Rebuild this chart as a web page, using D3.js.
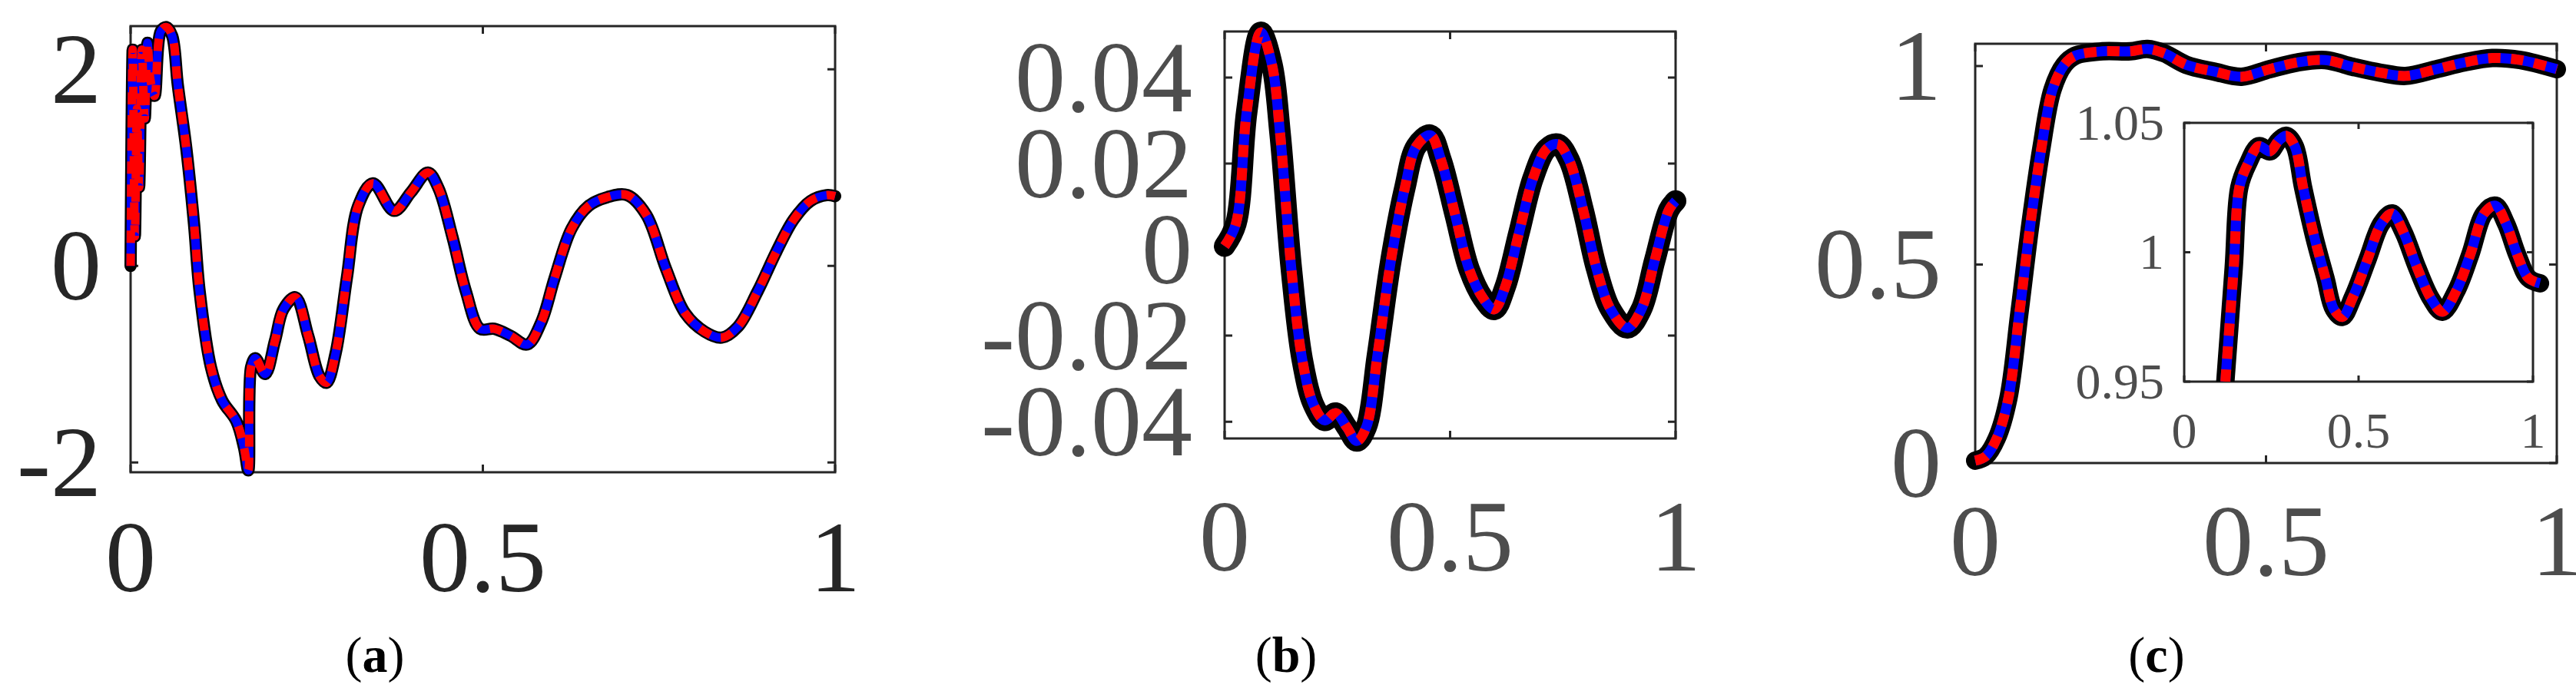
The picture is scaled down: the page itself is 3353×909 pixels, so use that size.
<!DOCTYPE html>
<html>
<head>
<meta charset="utf-8">
<script src="https://cdn.jsdelivr.net/npm/d3@7"></script>
<style>
  body { margin: 0; background: #fff; }
  text { font-family: "Liberation Serif", "DejaVu Serif", serif; }
</style>
</head>
<body>
<svg id="fig" width="3353" height="909"></svg>
<script>
// Panel (a)
const aX = [0,0.003,0.006,0.009,0.012,0.016,0.02,0.024,0.028,0.034,0.043,0.051,0.059,0.067,0.079,0.09,0.098,0.114,0.13,0.15,0.161,0.167,0.171,0.177,0.191,0.205,0.217,0.234,0.252,0.268,0.278,0.291,0.307,0.323,0.344,0.374,0.398,0.422,0.437,0.457,0.476,0.496,0.516,0.539,0.563,0.583,0.602,0.626,0.65,0.677,0.705,0.732,0.76,0.787,0.815,0.839,0.862,0.89,0.917,0.941,0.965,0.988,1];
const aY = [0,2.2,0.3,1.6,0.8,2.2,1.5,2.27,1.9,1.73,2.39,2.43,2.34,1.84,1.2,0.43,-0.26,-1.03,-1.37,-1.58,-1.85,-2.08,-1.03,-0.94,-1.1,-0.76,-0.44,-0.32,-0.71,-1.12,-1.19,-0.89,-0.12,0.61,0.84,0.56,0.75,0.95,0.79,0.29,-0.26,-0.64,-0.64,-0.71,-0.8,-0.57,-0.12,0.38,0.61,0.7,0.72,0.52,-0.03,-0.48,-0.67,-0.73,-0.62,-0.26,0.15,0.47,0.66,0.72,0.71];
const aXTicks = [0, 0.5, 1];
const aYTicks = [-2, 0, 2];

// Panel (b)
const bX = [0,0.025,0.049,0.08,0.105,0.123,0.148,0.172,0.197,0.222,0.246,0.271,0.293,0.314,0.339,0.369,0.4,0.425,0.456,0.48,0.511,0.542,0.573,0.598,0.622,0.653,0.684,0.714,0.739,0.764,0.795,0.825,0.856,0.893,0.924,0.954,0.985,1];
const bY = [0.0008,0.006,0.032,0.0505,0.043,0.027,-0.0045,-0.0255,-0.036,-0.0397,-0.038,-0.0413,-0.0445,-0.0413,-0.0245,-0.0024,0.0145,0.024,0.0266,0.0208,0.0082,-0.0045,-0.0113,-0.0139,-0.0087,0.004,0.0166,0.0234,0.0245,0.0208,0.0092,-0.0045,-0.0139,-0.0182,-0.0139,-0.0024,0.0092,0.0113];
const bXTicks = [0, 0.5, 1];
const bYTicks = [-0.04, -0.02, 0, 0.02, 0.04];

// Panel (c)
const cX = [0,0.018,0.037,0.057,0.076,0.095,0.114,0.133,0.153,0.172,0.219,0.267,0.296,0.325,0.363,0.411,0.458,0.506,0.554,0.602,0.649,0.697,0.74,0.793,0.841,0.889,0.937,1];
const cY = [0.006,0.017,0.062,0.163,0.378,0.603,0.795,0.941,1.003,1.026,1.037,1.037,1.043,1.032,1.003,0.986,0.973,0.992,1.009,1.015,0.998,0.983,0.975,0.992,1.009,1.02,1.015,0.992];
const cXTicks = [0, 0.5, 1];
const cYTicks = [0, 0.5, 1];

// Panel (c) inset
const insX = [0.118,0.142,0.158,0.182,0.214,0.246,0.27,0.293,0.317,0.341,0.373,0.405,0.429,0.453,0.485,0.525,0.565,0.596,0.628,0.668,0.708,0.74,0.78,0.82,0.86,0.892,0.923,0.955,0.987,1.02];
const insY = [0.95,0.994,1.025,1.034,1.041,1.039,1.043,1.045,1.041,1.025,1.006,0.99,0.978,0.975,0.983,0.997,1.011,1.015,1.008,0.994,0.982,0.977,0.985,0.999,1.015,1.018,1.011,0.999,0.99,0.988];
const insXTicks = [0, 0.5, 1];
const insYTicks = [0.95, 1, 1.05];

const captions = ["(a)", "(b)", "(c)"];

const svg = d3.select("#fig");
const fmt = d => String(d); // plain hyphen minus, like the original

function drawPanel(o) {
    let x = d3.scaleLinear().domain(o.xd).range([o.x0, o.x1]);
    let y = d3.scaleLinear().domain(o.yd).range([o.y1, o.y0]);
    let g = svg.append("g");

    // box
    g.append("rect")
        .attr("x", o.x0).attr("y", o.y0)
        .attr("width", o.x1 - o.x0).attr("height", o.y1 - o.y0)
        .attr("fill", "#fff").attr("stroke", "#262626").attr("stroke-width", o.box);

    // inward ticks on all sides
    const tl = o.tick;
    g.selectAll(null).data(o.xt).enter().append("path")
        .attr("d", d => `M${x(d)},${o.y1}v${-tl}M${x(d)},${o.y0}v${tl}`)
        .attr("stroke", "#262626").attr("stroke-width", o.box);
    g.selectAll(null).data(o.yt).enter().append("path")
        .attr("d", d => `M${o.x0},${y(d)}h${tl}M${o.x1},${y(d)}h${-tl}`)
        .attr("stroke", "#262626").attr("stroke-width", o.box);

    // tick labels
    g.selectAll(null).data(o.xt).enter().append("text")
        .attr("x", d => x(d)).attr("y", o.xlabY)
        .attr("text-anchor", "middle")
        .attr("font-size", o.fs).attr("fill", o.tc)
        .text(fmt);
    g.selectAll(null).data(o.yt).enter().append("text")
        .attr("x", o.ylabX).attr("y", d => y(d))
        .attr("dy", "0.33em")
        .attr("text-anchor", "end")
        .attr("font-size", o.fs).attr("fill", o.tc)
        .text(fmt);

    // curves: thick black, blue solid, red dashed
    let line = d3.line().x((d, i) => x(o.xs[i])).y(d => y(d)).curve(d3.curveCatmullRom);
    let cg = g.append("g");
    if (o.clip) {
        svg.append("clipPath").attr("id", o.clip).append("rect")
            .attr("x", o.x0 - 40).attr("y", o.y0 - 40)
            .attr("width", o.x1 - o.x0 + 80).attr("height", o.y1 - o.y0 + 40);
        cg.attr("clip-path", `url(#${o.clip})`);
    }
    cg.append("path").attr("d", line(o.ys)).attr("fill", "none")
        .attr("stroke", "#000").attr("stroke-width", o.lw[0])
        .attr("stroke-linejoin", "round").attr("stroke-linecap", "round");
    cg.append("path").attr("d", line(o.ys)).attr("fill", "none")
        .attr("stroke", "#0000ff").attr("stroke-width", o.lw[1]);
    cg.append("path").attr("d", line(o.ys)).attr("fill", "none")
        .attr("stroke", "#ff0000").attr("stroke-width", o.lw[1])
        .attr("stroke-dasharray", o.dash);
    return g;
}

drawPanel({x0: 170, x1: 1087, y0: 34, y1: 615, xd: [0, 1], yd: [-2.1, 2.44],
    xs: aX, ys: aY, xt: aXTicks, yt: aYTicks, xlabY: 770, ylabX: 132,
    fs: 132, tc: "#262626", box: 3, tick: 10, lw: [16, 11], dash: "16,14"});

drawPanel({x0: 1594, x1: 2181, y0: 41, y1: 571, xd: [0, 1], yd: [-0.0439, 0.0507],
    xs: bX, ys: bY, xt: bXTicks, yt: bYTicks, xlabY: 743, ylabX: 1552,
    fs: 132, tc: "#4d4d4d", box: 3, tick: 10, lw: [28, 13], dash: "16,14"});

drawPanel({x0: 2571, x1: 3328, y0: 57, y1: 603, xd: [0, 1], yd: [0, 1.056],
    xs: cX, ys: cY, xt: cXTicks, yt: cYTicks, xlabY: 749, ylabX: 2527,
    fs: 132, tc: "#4d4d4d", box: 3, tick: 10, lw: [24, 13], dash: "16,14"});

drawPanel({x0: 2843, x1: 3297, y0: 160, y1: 497, xd: [0, 1], yd: [0.95, 1.05],
    xs: insX, ys: insY, xt: insXTicks, yt: insYTicks, xlabY: 583, ylabX: 2817,
    fs: 66, tc: "#4d4d4d", box: 3, tick: 8, lw: [24, 13], dash: "16,14", clip: "insClip"});

// captions
svg.selectAll(null).data(captions).enter().append("text")
    .attr("x", (d, i) => [488, 1674, 2807][i])
    .attr("y", 875)
    .attr("text-anchor", "middle")
    .attr("font-size", 66).attr("fill", "#000")
    .html(d => `(<tspan font-weight="bold">${d[1]}</tspan>)`);
</script>
</body>
</html>
